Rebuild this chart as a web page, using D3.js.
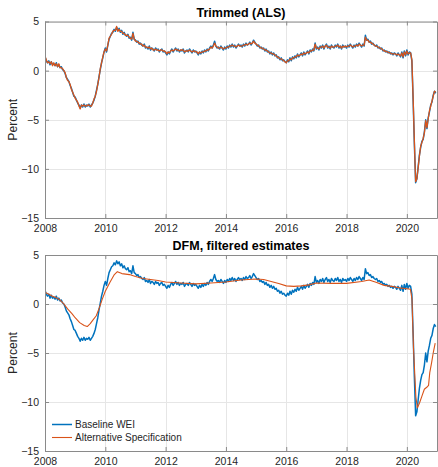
<!DOCTYPE html>
<html><head><meta charset="utf-8">
<script src="https://cdn.jsdelivr.net/npm/d3@7"></script>
<style>
html,body{margin:0;padding:0;background:#fff;}
svg{display:block;font-family:"Liberation Sans",Arial,Helvetica,sans-serif;}
</style></head>
<body>
<svg id="chart" width="438" height="467"></svg>
<script>
// ---------------- DATA ----------------
const seriesStart = 2008;          // first observation (decimal year)
const seriesStep = 1 / 24;         // semi-monthly observations
const xTicks = [2008, 2010, 2012, 2014, 2016, 2018, 2020];
const yTicks = [5, 0, -5, -10, -15];
const panelTitles = ["Trimmed (ALS)", "DFM, filtered estimates"];
const legendLabels = ["Baseline WEI", "Alternative Specification"];

// Baseline WEI (percent)
const baselineWEI = [
  1.4, 1.0, 0.8, 1.0, 0.6, 0.9, 0.6, 0.7, 0.5, 0.8, 0.4, 0.6, 0.3, 0.4, 0.1, 0.0, -0.3, -0.7, -0.9, -1.1, -1.5, -1.8, -2.2, -2.6,
  -2.7, -3.0, -3.3, -3.5, -3.8, -3.5, -3.7, -3.4, -3.7, -3.5, -3.6, -3.4, -3.7, -3.5, -3.3, -3.0, -2.6, -2.0, -1.4, -0.6, 0.1, 0.8, 1.3, 1.9,
  2.3, 1.9, 2.6, 3.2, 3.5, 3.8, 3.9, 4.2, 4.0, 4.4, 4.1, 4.3, 3.9, 4.1, 3.7, 3.9, 3.6, 3.5, 3.7, 3.3, 3.4, 3.1, 3.9, 3.2,
  3.1, 2.9, 3.0, 2.7, 2.8, 2.6, 2.5, 2.7, 2.3, 2.4, 2.2, 2.5, 2.1, 2.3, 2.2, 2.0, 2.3, 2.1, 2.2, 1.9, 2.1, 2.2, 1.9, 2.0,
  1.8, 1.6, 1.9, 1.7, 2.0, 2.2, 1.9, 2.1, 2.3, 2.0, 2.2, 1.9, 2.1, 2.0, 2.2, 1.8, 2.0, 2.1, 1.9, 2.2, 2.0, 1.8, 2.1, 1.9,
  2.0, 1.8, 1.6, 1.9, 1.7, 2.0, 1.8, 2.1, 1.9, 2.2, 2.0, 2.3, 2.5, 2.3, 2.6, 3.0, 2.5, 2.3, 2.4, 2.2, 2.5, 2.3, 2.1, 2.4,
  2.2, 2.5, 2.3, 2.6, 2.4, 2.7, 2.4, 2.6, 2.3, 2.5, 2.7, 2.5, 2.6, 2.4, 2.7, 2.5, 2.8, 2.6, 2.7, 2.9, 2.6, 2.8, 3.1, 2.9,
  2.7, 2.5, 2.6, 2.3, 2.4, 2.2, 2.3, 2.0, 2.2, 1.9, 2.0, 1.7, 1.9, 1.6, 1.8, 1.5, 1.6, 1.3, 1.4, 1.1, 1.3, 1.0, 1.1, 0.9,
  0.8, 1.1, 0.9, 1.3, 1.0, 1.4, 1.2, 1.5, 1.3, 1.7, 1.4, 1.6, 1.8, 1.5, 1.9, 1.6, 1.8, 2.0, 1.7, 2.1, 1.9, 2.2, 2.0, 2.8,
  2.2, 2.4, 2.1, 2.5, 2.3, 2.6, 2.2, 2.5, 2.7, 2.3, 2.5, 2.2, 2.6, 2.4, 2.3, 2.6, 2.4, 2.7, 2.3, 2.5, 2.2, 2.6, 2.4, 2.5,
  2.3, 2.6, 2.4, 2.7, 2.5, 2.3, 2.6, 2.4, 2.7, 2.5, 2.8, 2.6, 2.4, 2.7, 2.5, 3.6, 3.1, 3.2, 2.9, 3.0, 2.7, 2.8, 2.6, 2.5,
  2.6, 2.3, 2.4, 2.2, 2.3, 2.0, 2.1, 1.9, 2.0, 1.8, 1.9, 1.7, 1.8, 1.6, 1.8, 1.7, 1.5, 1.8, 1.6, 1.4, 1.9, 1.3, 2.0, 1.5,
  2.1, 1.6, 1.9, 1.8, 1.0, -3.0, -7.5, -11.4, -11.0, -9.8, -8.6, -7.8, -7.2, -7.0, -6.2, -5.0, -5.9, -4.8, -4.2, -3.5, -3.2, -2.5, -2.1, -2.3
];

// Alternative specification, trimmed (ALS) (percent)
const trimmedALS = [
  1.5, 1.1, 0.8, 0.9, 0.7, 0.9, 0.5, 0.8, 0.5, 0.7, 0.4, 0.7, 0.3, 0.3, 0.2, 0.0, -0.2, -0.7, -1.0, -1.1, -1.4, -1.9, -2.2, -2.5,
  -2.8, -3.0, -3.2, -3.6, -3.9, -3.5, -3.6, -3.5, -3.6, -3.6, -3.5, -3.5, -3.6, -3.6, -3.3, -2.9, -2.6, -2.1, -1.4, -0.7, 0.2, 0.8, 1.4, 1.9,
  2.2, 2.0, 2.6, 3.3, 3.5, 3.7, 4.0, 4.1, 4.1, 4.5, 4.0, 4.2, 4.0, 4.0, 3.8, 3.8, 3.6, 3.6, 3.6, 3.4, 3.3, 3.2, 3.8, 3.2,
  3.0, 3.0, 2.9, 2.8, 2.7, 2.7, 2.5, 2.6, 2.4, 2.4, 2.3, 2.4, 2.2, 2.3, 2.1, 2.1, 2.2, 2.1, 2.1, 2.0, 2.1, 2.1, 2.0, 2.0,
  1.9, 1.7, 1.9, 1.8, 2.0, 2.1, 2.0, 2.1, 2.2, 2.1, 2.1, 2.0, 2.1, 2.1, 2.1, 1.9, 2.0, 2.0, 2.0, 2.1, 2.0, 1.9, 2.0, 2.0,
  1.9, 1.9, 1.7, 1.9, 1.8, 1.9, 1.9, 2.0, 2.0, 2.1, 2.1, 2.2, 2.4, 2.3, 2.5, 2.8, 2.5, 2.4, 2.3, 2.3, 2.4, 2.3, 2.2, 2.3,
  2.3, 2.4, 2.4, 2.5, 2.5, 2.6, 2.5, 2.5, 2.4, 2.5, 2.6, 2.5, 2.5, 2.5, 2.6, 2.6, 2.7, 2.6, 2.7, 2.8, 2.7, 2.8, 3.0, 2.8,
  2.7, 2.6, 2.5, 2.4, 2.3, 2.3, 2.2, 2.1, 2.1, 2.0, 1.9, 1.8, 1.8, 1.7, 1.7, 1.6, 1.5, 1.4, 1.3, 1.2, 1.2, 1.1, 1.0, 0.9,
  0.8, 1.0, 1.0, 1.2, 1.1, 1.3, 1.3, 1.4, 1.4, 1.6, 1.5, 1.6, 1.7, 1.6, 1.8, 1.7, 1.8, 1.9, 1.8, 2.0, 2.0, 2.1, 2.1, 2.7,
  2.3, 2.3, 2.2, 2.4, 2.4, 2.5, 2.3, 2.5, 2.6, 2.4, 2.4, 2.3, 2.5, 2.4, 2.4, 2.5, 2.5, 2.6, 2.4, 2.5, 2.3, 2.5, 2.4, 2.5,
  2.4, 2.5, 2.5, 2.6, 2.5, 2.4, 2.5, 2.5, 2.6, 2.5, 2.7, 2.6, 2.5, 2.6, 2.6, 3.4, 3.1, 3.1, 2.9, 2.9, 2.8, 2.7, 2.6, 2.5,
  2.5, 2.4, 2.3, 2.3, 2.2, 2.1, 2.0, 2.0, 1.9, 1.9, 1.8, 1.8, 1.7, 1.7, 1.7, 1.7, 1.6, 1.7, 1.6, 1.5, 1.8, 1.4, 1.9, 1.6,
  2.0, 1.7, 1.8, 1.8, 1.1, -2.8, -7.3, -11.3, -11.0, -9.9, -8.7, -7.7, -7.3, -6.9, -6.3, -5.1, -5.8, -4.9, -4.1, -3.6, -3.1, -2.6, -2.1, -2.2
];

// Alternative specification, DFM filtered estimates (percent)
const dfmDates = [
  2008.0, 2008.25, 2008.4, 2008.5, 2008.6, 2008.75, 2008.9, 2009.0, 2009.15, 2009.3, 2009.4, 2009.5, 2009.6, 2009.7, 2009.8, 2009.9,
  2010.0, 2010.15, 2010.3, 2010.4, 2010.55, 2010.8, 2011.0, 2011.25, 2011.5, 2011.75, 2012.0, 2012.5, 2013.0, 2013.5, 2014.0, 2014.5,
  2015.0, 2015.25, 2015.5, 2015.75, 2016.0, 2016.25, 2016.5, 2016.75, 2017.0, 2017.5, 2018.0, 2018.5, 2018.75, 2019.0, 2019.25, 2019.5,
  2019.75, 2020.0, 2020.12, 2020.17, 2020.22, 2020.3, 2020.35, 2020.42, 2020.5, 2020.58, 2020.66, 2020.72, 2020.76, 2020.82, 2020.88, 2020.94
];
const dfmAlternative = [
  1.2, 0.8, 0.6, 0.4, 0.1, -0.5, -1.0, -1.4, -1.9, -2.2, -2.3, -2.0, -1.6, -1.2, -0.4, 0.5,
  1.3, 2.2, 3.0, 3.3, 3.1, 3.0, 2.8, 2.6, 2.5, 2.4, 2.25, 2.15, 2.05, 2.15, 2.25, 2.45,
  2.55, 2.5, 2.3, 2.1, 1.85, 1.8, 1.85, 1.95, 2.15, 2.1, 2.1, 2.3, 2.45, 2.2, 1.9, 1.8,
  1.65, 1.55, 1.5, 0.5, -4.5, -9.5, -10.6, -10.1, -9.4, -8.7, -8.5, -8.3, -7.0, -6.0, -4.9, -4.0
];

// ---------------- DRAW ----------------
const BLUE = "#0072BD", ORANGE = "#D95319", AXC = "#262626";
const svg = d3.select("#chart");
const left = 45, right = 437;
const panels = [
  {top: 21.5, bottom: 218, title: panelTitles[0],
   lines: [
     {x: baselineWEI.map((v, i) => seriesStart + i * seriesStep), y: baselineWEI, color: BLUE, w: 1.5},
     {x: trimmedALS.map((v, i) => seriesStart + i * seriesStep), y: trimmedALS, color: ORANGE, w: 1.3}
   ], legend: false},
  {top: 255, bottom: 451, title: panelTitles[1],
   lines: [
     {x: baselineWEI.map((v, i) => seriesStart + i * seriesStep), y: baselineWEI, color: BLUE, w: 1.5},
     {x: dfmDates, y: dfmAlternative, color: ORANGE, w: 1.1}
   ], legend: true}
];

const x = d3.scaleLinear().domain([2008, 2021]).range([left, right]);

panels.forEach(p => {
  const y = d3.scaleLinear().domain([-15, 5]).range([p.bottom, p.top]);
  const g = svg.append("g");

  // grid
  g.append("g").selectAll("line").data(xTicks).join("line")
    .attr("x1", d => Math.round(x(d)) + 0.5).attr("x2", d => Math.round(x(d)) + 0.5)
    .attr("y1", p.top).attr("y2", p.bottom).attr("stroke", "#e6e6e6").attr("stroke-width", 1);
  g.append("g").selectAll("line").data(yTicks).join("line")
    .attr("y1", d => Math.round(y(d)) + 0.5).attr("y2", d => Math.round(y(d)) + 0.5)
    .attr("x1", left).attr("x2", right).attr("stroke", "#e6e6e6").attr("stroke-width", 1);

  // lines
  const clipId = "clip" + p.top;
  svg.append("clipPath").attr("id", clipId).append("rect")
    .attr("x", left).attr("y", p.top).attr("width", right - left).attr("height", p.bottom - p.top);
  p.lines.forEach(L => {
    const pts = L.y.map((v, i) => [L.x[i], v]);
    g.append("path").datum(pts)
      .attr("clip-path", `url(#${clipId})`)
      .attr("fill", "none").attr("stroke", L.color).attr("stroke-width", L.w)
      .attr("stroke-linejoin", "round")
      .attr("d", d3.line().x(d => x(d[0])).y(d => y(d[1])));
  });

  // axes (inward ticks)
  const ax = g.append("g").attr("transform", `translate(0,${p.bottom})`)
    .call(d3.axisBottom(x).tickValues(xTicks).tickFormat(d3.format("d")).tickSizeInner(-4).tickSizeOuter(0).tickPadding(7));
  const axTop = g.append("g").attr("transform", `translate(0,${p.top})`)
    .call(d3.axisTop(x).tickValues(xTicks).tickFormat("").tickSizeInner(-4).tickSizeOuter(0));
  const ay = g.append("g").attr("transform", `translate(${left},0)`)
    .call(d3.axisLeft(y).tickValues(yTicks).tickFormat(d3.format("d")).tickSizeInner(-4).tickSizeOuter(0).tickPadding(6));
  const ayR = g.append("g").attr("transform", `translate(${right},0)`)
    .call(d3.axisRight(y).tickValues(yTicks).tickFormat("").tickSizeInner(-4).tickSizeOuter(0));
  [ax, axTop, ay, ayR].forEach(a => {
    a.select(".domain").attr("stroke", "#8a8a8a").attr("stroke-width", 1);
    a.selectAll(".tick line").attr("stroke", "#8a8a8a");
    a.selectAll("text").attr("fill", AXC).style("font-size", "10.5px")
      .style("font-family", "'Liberation Sans', Arial, sans-serif");
  });
  ax.selectAll("text").attr("dy", "0.71em");

  // y label
  g.append("text").attr("transform", `translate(17,${(p.top + p.bottom) / 2}) rotate(-90)`)
    .attr("text-anchor", "middle").attr("fill", AXC).style("font-size", "12.2px").text("Percent");

  // title
  g.append("text").attr("x", (left + right) / 2).attr("y", p.top - 5)
    .attr("text-anchor", "middle").attr("fill", "#000").style("font-weight", "bold")
    .style("font-size", "12.5px").text(p.title);

  if (p.legend) {
    const lg = g.append("g");
    const rows = [{label: legendLabels[0], color: BLUE, w: 1.5}, {label: legendLabels[1], color: ORANGE, w: 1.1}];
    rows.forEach((r, i) => {
      const yy = 424.5 + i * 13;
      lg.append("line").attr("x1", 52).attr("x2", 72).attr("y1", yy).attr("y2", yy)
        .attr("stroke", r.color).attr("stroke-width", r.w);
      lg.append("text").attr("x", 75).attr("y", yy).attr("dy", "0.35em")
        .attr("fill", AXC).style("font-size", "10px").text(r.label);
    });
  }
});
</script>
</body></html>
